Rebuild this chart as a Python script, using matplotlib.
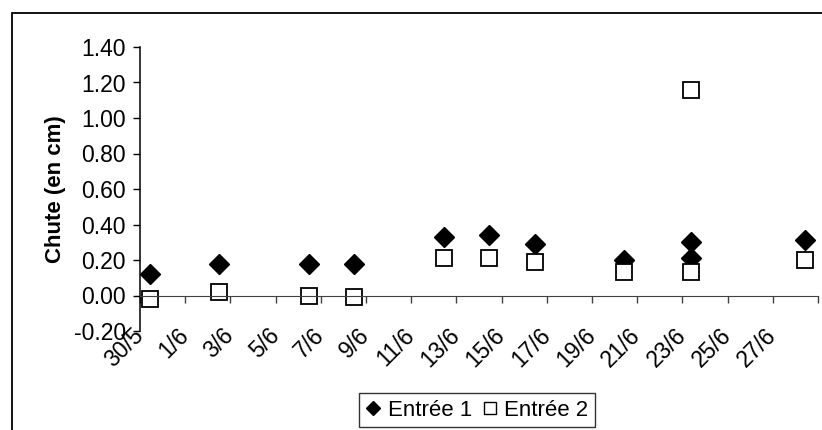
import numpy as np
import pandas as pd
import matplotlib
matplotlib.use("Agg")
import matplotlib.pyplot as plt
import matplotlib.dates as mdates
from matplotlib.patches import Rectangle

plt.rcParams['font.family'] = ['Liberation Sans', 'DejaVu Sans']

# relevés de chute (cm) pour les deux entrées
dates = ['2004-05-30 10:30', '2004-06-02 11:45', '2004-06-06 11:00',
         '2004-06-08 10:50', '2004-06-12 10:30', '2004-06-14 10:50',
         '2004-06-16 11:15', '2004-06-20 10:30', '2004-06-23 09:20',
         '2004-06-23 09:20', '2004-06-28 10:20']
entree1 = [0.12, 0.18, 0.18, 0.18, 0.33, 0.34, 0.29, 0.20, 0.30, 0.21, 0.31]
entree2 = [-0.02, 0.02, 0.00, -0.01, 0.21, 0.21, 0.19, 0.13, 1.16, 0.13, 0.20]

x_start, x_end = '2004-05-30', '2004-06-29'
yticks = np.arange(-0.2, 1.41, 0.2)

t = mdates.date2num(pd.to_datetime(dates).to_pydatetime())

fig = plt.figure(figsize=(8.22, 4.30), dpi=100)
ax = fig.add_axes([140/822, 1 - 331/430, 678/822, 284/430])

ax.plot(t, entree1, linestyle='none', marker='D', ms=10.3,
        mfc='black', mec='black', label='Entrée 1')
ax.plot(t, entree2, linestyle='none', marker='s', ms=11,
        mfc='white', mec='black', mew=1.3, label='Entrée 2')

ax.spines['top'].set_visible(False)
ax.spines['right'].set_visible(False)
ax.spines['bottom'].set_position(('data', 0))
ax.spines['bottom'].set_color('#404040')
ax.spines['left'].set_linewidth(1.1)
ax.tick_params(axis='x', direction='out', length=5, width=1, pad=21,
               color='#404040')
ax.tick_params(axis='y', direction='out', length=5, width=1, pad=5)

tick_days = pd.date_range(x_start, x_end, freq='2D')
ticks = mdates.date2num(tick_days.to_pydatetime())
labels = [f'{d.day}/{d.month}' for d in tick_days]
labels[-1] = ''

ax.set_xlim(ticks[0], ticks[-1])
ax.set_ylim(-0.2, 1.4)
ax.set_xticks(ticks)
ax.set_xticklabels(labels, rotation=45, ha='right', va='center',
                   rotation_mode='anchor', fontsize=16.5)
ax.set_yticks(yticks)
ax.set_yticklabels([f'{v:.2f}' for v in yticks], fontsize=16.5)

ax.set_ylabel('Chute (en cm)', fontsize=16, fontweight='bold', labelpad=6)

leg = ax.legend(loc='center', bbox_to_anchor=(477/822, 1 - 410/430),
                bbox_transform=fig.transFigure, ncol=2, frameon=True,
                fancybox=False, fontsize=16,
                handlelength=0.7, handletextpad=0.3, columnspacing=0.45,
                borderpad=0.3, borderaxespad=0)
leg.get_frame().set_edgecolor('black')
leg.get_frame().set_linewidth(1.0)
leg.legend_handles[0].set_markersize(7.5)
leg.legend_handles[1].set_markersize(8)
leg.legend_handles[1].set_markeredgewidth(1.0)

# cadre du graphique
fig.patches.append(Rectangle((12/822, -0.1), 1.2, 1.1 - 13/430,
                             transform=fig.transFigure, fill=False,
                             edgecolor='black', linewidth=1.3))

fig.savefig('out.png', dpi=100)
